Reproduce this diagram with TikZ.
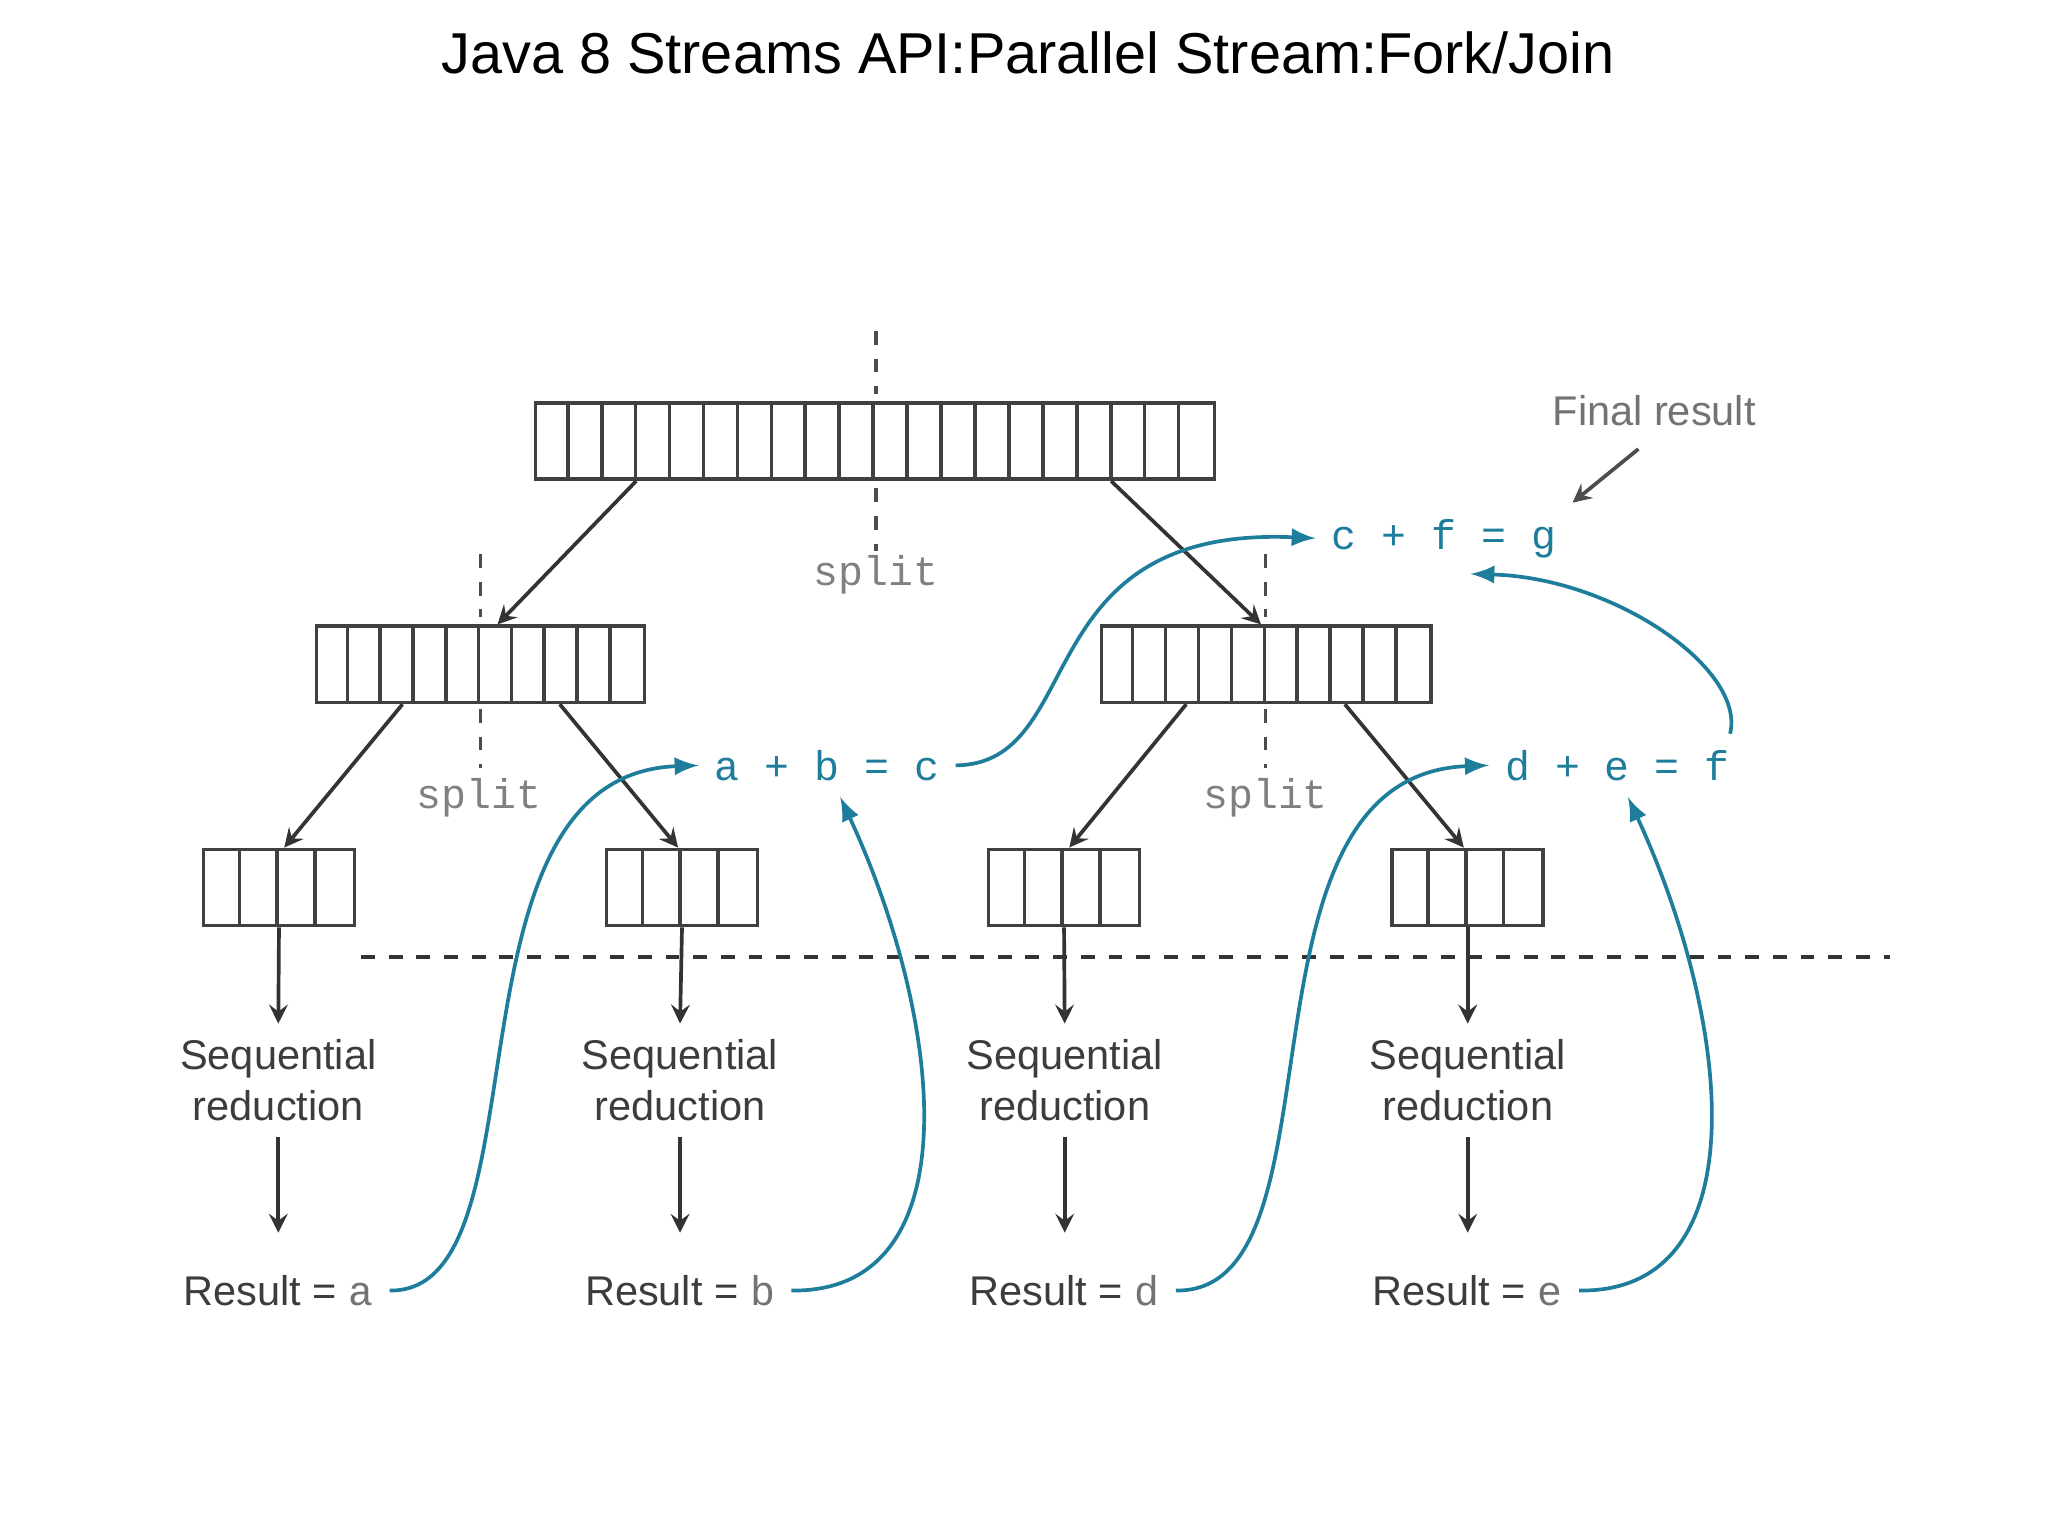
\documentclass[tikz,border=0pt]{standalone}
\usepackage{fontspec}
\setmainfont{Liberation Sans}
\setmonofont{Liberation Mono}
\usetikzlibrary{positioning}
\definecolor{teal1}{RGB}{30,125,155}
\definecolor{txtgray}{RGB}{60,60,60}
\tikzset{
    arr/.style={draw, thick, black!75, minimum height=5.8mm, inner sep=0pt},
    split/.style={black!70, thick, dashed},
    down/.style={-stealth, black!80, thick},
    merge/.style={-latex, teal1, thick},
    lbl/.style={font=\fontsize{9}{11}\selectfont, text=txtgray, align=center},
    expr/.style={font=\ttfamily\fontsize{9}{11}\selectfont, text=teal1},
}
% cell dividers of an array node: name, number of cells, cell width (in mm)
\newcommand{\cells}[3]{%
    \foreach \i in {1,...,\numexpr#2-1\relax} {
        \draw[thick, black!75] ([xshift=\i*#3 mm]#1.south west) -- ([xshift=\i*#3 mm]#1.north west);
    }
}
\begin{document}
\begin{tikzpicture}[x=0.1mm, y=-0.1mm]
    \useasboundingbox (0,0) rectangle (1560,1170);

    \node[font=\fontsize{12.5}{15}\selectfont] (title) at (783,40) {Java 8 Streams API:Parallel Stream:Fork/Join};

    % arrays
    \node[arr, minimum width=51.7mm] (top) at (666.5,336) {};
    \cells{top}{20}{2.585}
    \node[arr, minimum width=25mm] (midl) at (366,506) {};
    \cells{midl}{10}{2.5}
    \node[arr, minimum width=25.1mm] (midr) at (964.5,506) {};
    \cells{midr}{10}{2.51}
    \foreach \n/\x in {s1/212.5, s2/519.5, s3/810.5, s4/1118} {
        \node[arr, minimum width=11.5mm] (\n) at (\x,676) {};
        \cells{\n}{4}{2.875}
    }

    % split lines
    \draw[split] (667,252) -- (667,300);
    \draw[split] (667,372) -- (667,420);
    \draw[split] (366,422) -- (366,470);
    \draw[split] (366,540) -- (366,585);
    \draw[split] (964,422) -- (964,470);
    \draw[split] (964,540) -- (964,585);
    \node[expr, text=black!50] (sp1) at (667,438) {split};
    \node[expr, text=black!50] (sp2) at (365,608) {split};
    \node[expr, text=black!50] (sp3) at (964,608) {split};

    % forks
    \draw[down] ([xshift=7.8mm]top.south west) -- ([xshift=1.3mm]midl.north);
    \draw[down] ([xshift=-8mm]top.south east) -- ([xshift=-0.4mm]midr.north);
    \draw[down] ([xshift=6.7mm]midl.south west) -- ([xshift=0.4mm]s1.north);
    \draw[down] ([xshift=-6.6mm]midl.south east) -- ([xshift=-0.3mm]s2.north);
    \draw[down] ([xshift=6.6mm]midr.south west) -- ([xshift=0.4mm]s3.north);
    \draw[down] ([xshift=-6.7mm]midr.south east) -- ([xshift=-0.3mm]s4.north);

    \draw[thick, black!80, dashed] (275,729) -- (1440,729);

    % sequential reductions
    \foreach \n/\x/\r in {s1/212/a, s2/518/b, s3/811/d, s4/1118/e} {
        \node[lbl] (q\n) at (\x,823) {Sequential\\reduction};
        \node[lbl] (r\n) at (\x,983) {Result = {\ttfamily\color{black!55}\r}};
        \draw[down] (\n.south) -- (q\n.north);
        \draw[down] (q\n.south) -- ([yshift=2mm]r\n.north);
    }

    % joins
    \node[expr] (ab) at (630,583) {a + b = c};
    \node[expr] (de) at (1232,583) {d + e = f};
    \node[expr] (cf) at (1100,410) {c + f = g};
    \node[lbl, text=black!55] (fin) at (1260,313) {Final result};
    \draw[-stealth, black!70, thick] (1248,342) -- (cf.north east);

    \draw[merge] (rs1.east) .. controls (420,985) and (330,590) .. (ab.west);
    \draw[merge] (rs2.east) .. controls (740,985) and (720,780) .. ([xshift=1mm]ab.south);
    \draw[merge] (ab.east) .. controls (830,582) and (780,400) .. (cf.west);
    \draw[merge] (rs3.east) .. controls (1030,985) and (930,590) .. (de.west);
    \draw[merge] (rs4.east) .. controls (1340,985) and (1320,780) .. ([xshift=0.8mm]de.south);
    \draw[merge] ([xshift=-1.2mm]de.north east) .. controls (1330,510) and (1230,440) .. ([xshift=2mm]cf.south);
\end{tikzpicture}
\end{document}
